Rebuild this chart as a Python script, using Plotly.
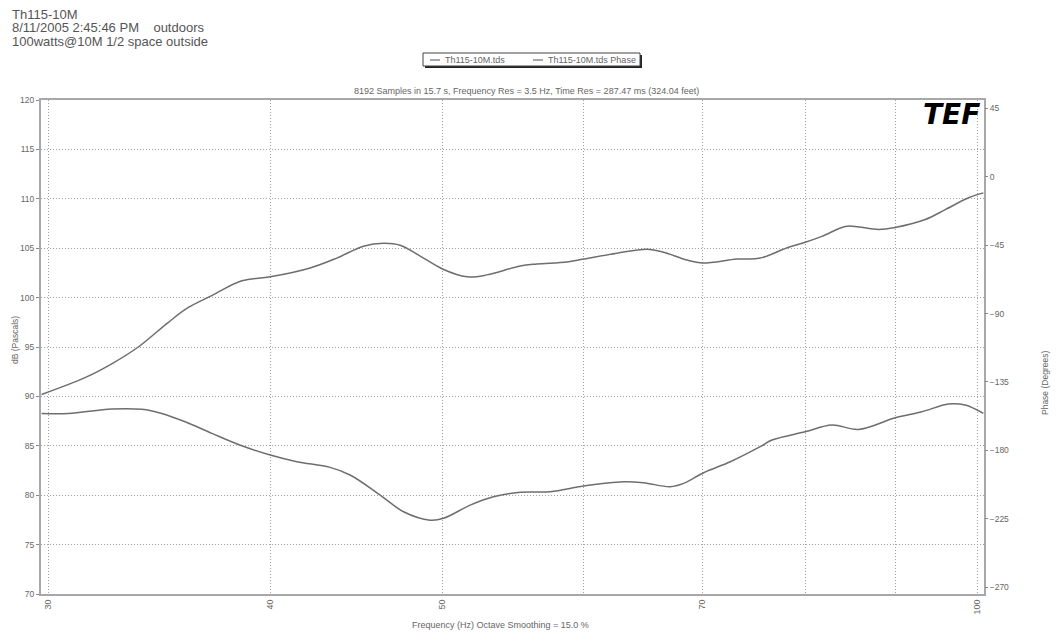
import plotly.graph_objects as go

# ---- data ----
mag_freq = [29.74, 31.46, 32.57, 33.71, 35.05, 35.97, 37.08, 38.55, 40.0, 42.12,
            43.60, 45.13, 46.32, 47.33, 48.58, 50.0, 51.61, 52.97, 55.30, 56.51,
            58.76, 60.03, 62.69, 65.17, 66.59, 68.64, 70.0, 73.24, 75.48, 78.30,
            80.01, 81.76, 84.27, 85.37, 87.99, 89.91, 93.48, 95.93, 98.87, 100.8]
mag_db = [90.2, 91.9, 93.3, 95.0, 97.5, 99.0, 100.2, 101.7, 102.1, 103.0,
          104.0, 105.2, 105.5, 105.3, 104.2, 102.9, 102.1, 102.3, 103.2, 103.4,
          103.6, 103.9, 104.5, 104.9, 104.6, 103.8, 103.5, 103.9, 104.0, 105.1,
          105.6, 106.2, 107.2, 107.2, 106.9, 107.1, 107.9, 108.9, 110.1, 110.6]

ph_freq = [29.74, 30.79, 32.57, 33.86, 34.75, 35.82, 37.08, 38.55, 40.0, 41.40,
           43.22, 44.36, 46.12, 47.54, 49.21, 50.07, 51.83, 53.42, 55.30, 57.50,
           60.03, 63.22, 64.88, 67.17, 68.34, 70.14, 72.61, 75.48, 76.64, 80.01,
           82.83, 85.73, 89.91, 93.08, 96.35, 98.45, 100.8]
ph_deg = [-155.7, -155.7, -152.8, -153.0, -155.7, -161.2, -168.8, -177.0, -183.1, -187.5,
          -191.2, -196.2, -209.4, -220.4, -225.9, -224.7, -216.0, -210.5, -207.6, -207.2,
          -203.5, -200.7, -201.3, -203.9, -201.7, -194.7, -187.5, -177.6, -173.2, -167.8,
          -163.3, -166.2, -158.6, -154.6, -149.5, -150.2, -155.7]

series_names = ["Th115-10M.tds", "Th115-10M.tds Phase"]
title_lines = ["Th115-10M", "8/11/2005 2:45:46 PM    outdoors", "100watts@10M 1/2 space outside"]
x_grid = [30, 40, 50, 60, 70, 80, 90, 100]
x_text = ["30", "40", "50", "", "70", "", "", "100"]
db_ticks = [70, 75, 80, 85, 90, 95, 100, 105, 110, 115, 120]
ph_ticks = [45, 0, -45, -90, -135, -180, -225, -270]

W, H = 1061, 633
L, R, T, B = 41, 984, 100, 594


def px(x):
    return (x - L) / (R - L)


def py(y):
    return (B - y) / (B - T)


LINE = "#6e6e6e"
TXT = "#666666"
GRID = "#a0a0a0"
FONT = "Liberation Sans, Arial, sans-serif"

fig = go.Figure()
fig.add_trace(go.Scatter(x=mag_freq, y=mag_db, mode="lines", name=series_names[0],
                         line=dict(color=LINE, width=1.5, shape="spline", smoothing=1.0)))
fig.add_trace(go.Scatter(x=ph_freq, y=ph_deg, mode="lines", name=series_names[1],
                         yaxis="y2",
                         line=dict(color=LINE, width=1.5, shape="spline", smoothing=1.0)))

fig.update_layout(
    width=W, height=H,
    margin=dict(l=L, r=W - R, t=T, b=H - B),
    paper_bgcolor="white", plot_bgcolor="white",
    font=dict(family=FONT, color=TXT, size=8),
    showlegend=False,
    xaxis=dict(type="log", range=[1.4730, 2.0038],
               tickvals=x_grid, ticktext=x_text, tickangle=-90,
               showgrid=True, gridcolor=GRID, griddash="1px,2px", gridwidth=1,
               showline=True, linecolor="#a8a8a8", linewidth=2, mirror=True,
               ticks="", tickfont=dict(size=9, color=TXT), zeroline=False),
    yaxis=dict(range=[70, 120], tickvals=db_ticks,
               showgrid=True, gridcolor=GRID, griddash="1px,2px", gridwidth=1,
               showline=True, linecolor="#a8a8a8", linewidth=2, mirror=True,
               ticks="outside", ticklen=3, tickcolor="#888",
               tickfont=dict(size=8.5, color=TXT), zeroline=False),
    yaxis2=dict(range=[-274.5, 50.5], tickvals=ph_ticks, overlaying="y", side="right",
                showgrid=False, ticks="outside", ticklen=3, tickcolor="#888",
                tickfont=dict(size=8.5, color=TXT), zeroline=False, showline=False),
)

shapes = []
# legend box with shadow
shapes.append(dict(type="rect", xref="paper", yref="paper",
                   x0=px(425), x1=px(642), y0=py(68), y1=py(55),
                   fillcolor="#222", line=dict(width=0), layer="above"))
shapes.append(dict(type="rect", xref="paper", yref="paper",
                   x0=px(423), x1=px(640), y0=py(66), y1=py(53),
                   fillcolor="white", line=dict(color="#444", width=1), layer="above"))
for x0 in (430, 533):
    shapes.append(dict(type="line", xref="paper", yref="paper",
                       x0=px(x0), x1=px(x0 + 10), y0=py(60), y1=py(60),
                       line=dict(color=LINE, width=1.2), layer="above"))
fig.update_layout(shapes=shapes)

ann = []
for x0, name in zip((443, 546), series_names):
    ann.append(dict(text=name, x=px(x0), y=py(60), xref="paper", yref="paper",
                    xanchor="left", yanchor="middle", showarrow=False,
                    font=dict(size=9, color=TXT)))
for yy, line in zip((14, 28, 42), title_lines):
    ann.append(dict(text=line, x=px(10), y=py(yy), xref="paper", yref="paper",
                    xanchor="left", yanchor="middle", showarrow=False,
                    font=dict(size=13, color="#555")))
ann.append(dict(text="8192 Samples in 15.7 s, Frequency Res = 3.5 Hz, Time Res = 287.47 ms (324.04 feet)",
                x=px(526), y=py(91), xref="paper", yref="paper", xanchor="center", yanchor="middle",
                showarrow=False, font=dict(size=9, color=TXT)))
ann.append(dict(text="<b><i>TEF</i></b>", x=px(951), y=py(114), xref="paper", yref="paper",
                xanchor="center", yanchor="middle", showarrow=False,
                font=dict(size=28, color="black", family="DejaVu Sans, sans-serif")))
ann.append(dict(text="dB (Pascals)", x=px(15), y=py(340), xref="paper", yref="paper",
                xanchor="center", yanchor="middle", textangle=-90, showarrow=False,
                font=dict(size=8.5, color=TXT)))
ann.append(dict(text="Phase (Degrees)", x=px(1045), y=py(383), xref="paper", yref="paper",
                xanchor="center", yanchor="middle", textangle=-90, showarrow=False,
                font=dict(size=8.5, color=TXT)))
ann.append(dict(text="Frequency (Hz) Octave Smoothing = 15.0 %", x=px(500), y=py(625),
                xref="paper", yref="paper", xanchor="center", yanchor="middle",
                showarrow=False, font=dict(size=9, color=TXT)))
fig.update_layout(annotations=ann)

fig.write_html("out.html", config={"displayModeBar": False},
               post_script="document.body.style.margin='0px';")
